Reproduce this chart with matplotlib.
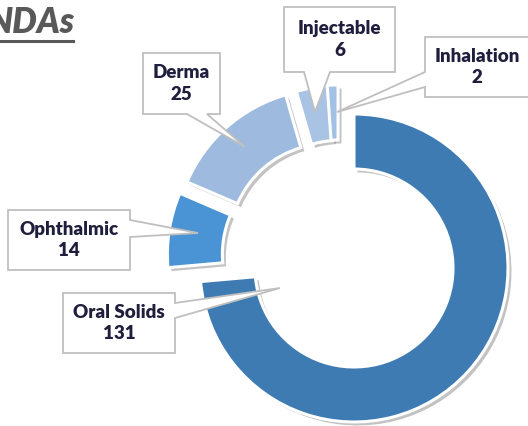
import matplotlib
matplotlib.use("Agg")
from matplotlib import pyplot as plt
from matplotlib.patches import Polygon
import matplotlib.patheffects as pe

W, H = 528, 426

# data
categories = ['Oral Solids', 'Ophthalmic', 'Derma', 'Injectable', 'Inhalation']
counts = [131, 14, 25, 6, 2]
colors = ['#3E7BB3', '#4A94D5', '#9EBBDF', '#A8C3E3', '#A3C1E4']
explode = [0, 31, 31, 27, 27]
# extra nudge of the pulled-out pieces, pixels (x right, y down)
nudge = [(0, 0), (-2, -9), (-5, -2), (-10, -2), (-15, -2)]

# callout layout in pixels (top-left origin): box, edge with tail, tail base, tip
callouts = [
    ((63, 293, 175, 353), 'right', (303, 318), (280, 288)),
    ((8, 210, 130, 270), 'right', (220, 237), (198, 233)),
    ((143, 53, 220, 114), 'bottom', (187, 207), (245, 147)),
    ((284, 7, 395, 72), 'bottom', (304, 330), (315, 112)),
    ((425, 37, 535, 97), 'left', (72, 87), (337, 112)),
]

fig = plt.figure(figsize=(W / 100, H / 100), dpi=100)
ax = fig.add_axes([0, 0, 1, 1])

cx, cy, R = 354, H - 268, 154
wedges, _ = ax.pie(counts, colors=colors, explode=explode, startangle=90,
                   counterclock=False, center=(cx, cy), radius=R,
                   wedgeprops=dict(width=55, edgecolor='white', linewidth=2.2))
for w, (dx, dy) in zip(wedges, nudge):
    x, y = w.center
    w.set_center((x + dx, y - dy))
    w.set_path_effects([pe.SimplePatchShadow(offset=(2.5, -2.5), alpha=0.35,
                                             shadow_rgbFace='#555555'),
                        pe.Normal()])

ax.set_xlim(0, W)
ax.set_ylim(0, H)
ax.set_aspect('auto')
ax.axis('off')


def flip(p):
    return (p[0], H - p[1])


for (box, edge, base, tip), name, n in zip(callouts, categories, counts):
    x0, y0, x1, y1 = box
    a, b = base
    if edge == 'bottom':
        pts = [(x0, y0), (x1, y0), (x1, y1), (b, y1), tip, (a, y1), (x0, y1)]
    elif edge == 'right':
        pts = [(x0, y0), (x1, y0), (x1, a), tip, (x1, b), (x1, y1), (x0, y1)]
    else:
        pts = [(x0, y0), (x1, y0), (x1, y1), (x0, y1), (x0, b), tip, (x0, a)]
    ax.add_patch(Polygon([flip(p) for p in pts], closed=True, facecolor='white',
                         edgecolor='#BFBFBF', linewidth=1.3, zorder=5))
    tx = (x0 + x1) / 2 if edge != 'left' else (x0 + x1) / 2 - 3
    ty = H - (y0 + y1) / 2
    ax.text(tx, ty, name + '\n' + str(n), ha='center', va='center',
            fontsize=13.5, fontweight='heavy', family='Lato', color='#1F1F3D',
            linespacing=1.35, zorder=6)

# title (cut off at the left edge, as in the source slide)
fig.text(-13 / W, 1 - 33 / H, 'NDAs', fontsize=25, fontweight='heavy',
         fontstyle='italic', family='Lato', color='#595959', ha='left', va='baseline')
ax.plot([0, 73], [H - 41, H - 41], color='#595959', linewidth=2.2, clip_on=False)

fig.savefig('out.png', dpi=100)
